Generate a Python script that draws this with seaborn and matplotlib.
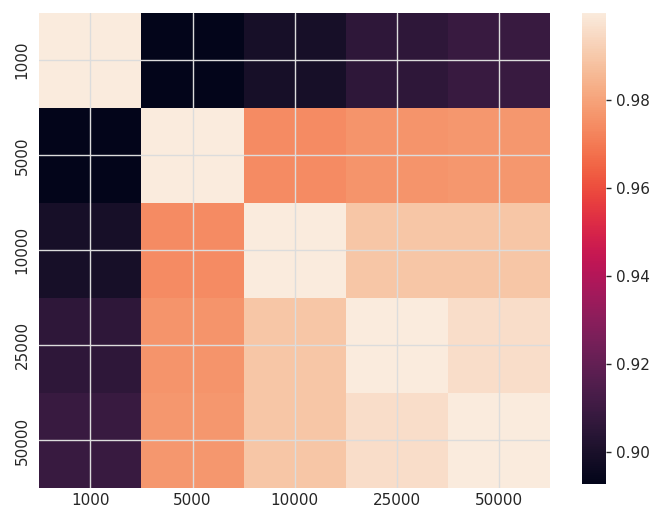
import numpy as np
import pandas as pd
import seaborn as sns
import matplotlib
matplotlib.use("Agg")
import matplotlib.pyplot as plt

labels = ["1000", "5000", "10000", "25000", "50000"]
row_1000 = [0.9998, 0.8927, 0.899, 0.906, 0.909]
row_5000 = [0.8927, 0.9998, 0.974, 0.976, 0.977]
row_10000 = [0.899, 0.974, 0.9998, 0.989, 0.989]
row_25000 = [0.906, 0.976, 0.989, 0.9998, 0.996]
row_50000 = [0.909, 0.977, 0.989, 0.996, 0.9998]

df = pd.DataFrame([row_1000, row_5000, row_10000, row_25000, row_50000],
                  index=labels, columns=labels)

sns.set_theme(style="darkgrid")
plt.rcParams["ytick.major.size"] = 3.5
plt.rcParams["ytick.major.width"] = 1.0

fig = plt.figure(figsize=(6.64, 5.27), dpi=100)
ax = fig.add_axes([0.059, 0.074, 0.77, 0.902])
cax = fig.add_axes([0.877, 0.081, 0.036, 0.895])
sns.heatmap(df, ax=ax, cbar_ax=cax, cmap="rocket")
ax.set_axisbelow(False)
ax.grid(True, color="#dcdcdc", linewidth=1.0, zorder=5)
ax.tick_params(axis="y", length=3.5, color="#262626")
ax.tick_params(axis="x", length=0)
cax.tick_params(length=3.5, color="#262626")
fig.savefig("out.png", dpi=100)
